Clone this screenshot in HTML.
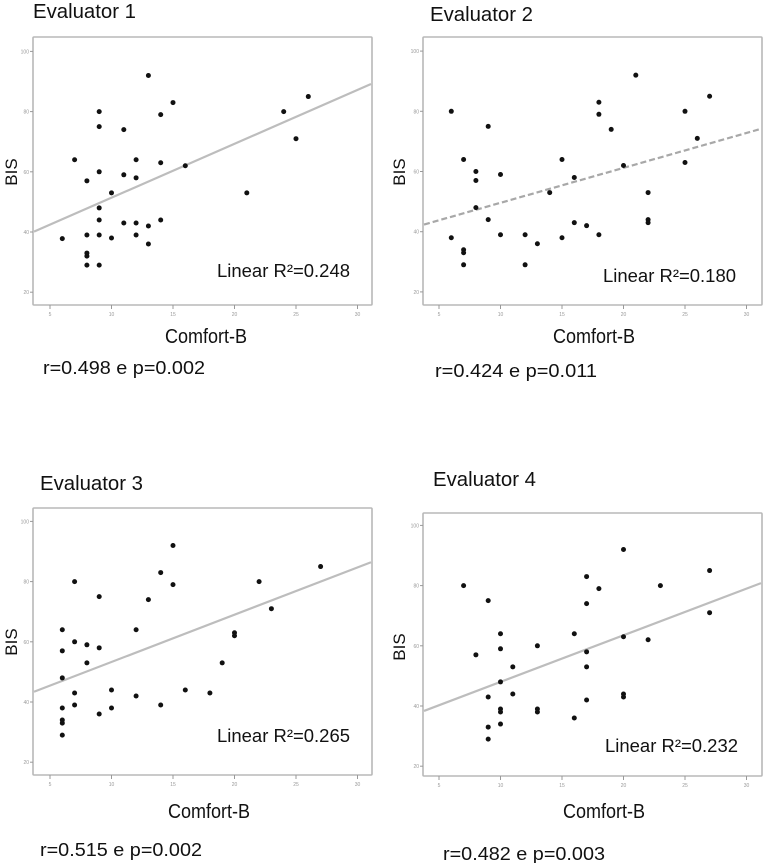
<!DOCTYPE html>
<html><head><meta charset="utf-8"><style>
html,body{margin:0;padding:0;background:#fff;}
svg{display:block;font-family:"Liberation Sans Narrow","Liberation Sans",sans-serif;}
</style></head><body>
<svg id="c" width="771" height="863" viewBox="0 0 771 863" xmlns="http://www.w3.org/2000/svg"></svg>
<script>
const xTicks = [5, 10, 15, 20, 25, 30];
const yTicks = [20, 40, 60, 80, 100];
const titles = ["Evaluator 1", "Evaluator 2", "Evaluator 3", "Evaluator 4"];
const r2Labels = ["Linear R²=0.248", "Linear R²=0.180", "Linear R²=0.265", "Linear R²=0.232"];
const statLabels = ["r=0.498 e p=0.002", "r=0.424 e p=0.011", "r=0.515 e p=0.002", "r=0.482 e p=0.003"];
const fitIntercepts = [33.5, 38.0, 37.6, 32.5];
const fitSlopes = [1.79, 1.16, 1.57, 1.55];
const e1x = [6,7,8,8,8,8,8,9,9,9,9,9,9,9,10,10,11,11,11,12,12,12,12,13,13,13,14,14,14,15,16,21,24,25,26];
const e1y = [37.8,64,57,39,33,32,29,80,75,60,48,44,39,29,53,38,74,59,43,64,58,43,39,92,42,36,79,63,44,83,62,53,80,71,85];
const e2x = [6,6,7,7,7,7,8,8,8,9,9,10,10,12,12,13,14,15,15,16,16,17,18,18,18,19,20,21,22,22,22,25,25,26,27];
const e2y = [80,38,64,34,33,29,60,57,48,75,44,59,39,39,29,36,53,64,38,58,43,42,83,79,39,74,62,92,53,44,43,80,63,71,85];
const e3x = [6,6,6,6,6,6,6,7,7,7,7,8,8,9,9,9,10,10,12,12,13,14,14,15,15,16,18,19,20,20,22,23,27];
const e3y = [64,57,48,38,34,33,29,80,60,43,39,59,53,75,58,36,44,38,64,42,74,83,39,92,79,44,43,53,63,62,80,71,85];
const e4x = [7,8,9,9,9,9,10,10,10,10,10,10,11,11,13,13,13,16,16,17,17,17,17,17,18,20,20,20,20,22,23,27,27];
const e4y = [80,57,75,43,33,29,64,59,48,39,38,34,53,44,60,39,38,64,36,83,74,58,53,42,79,92,63,44,43,62,80,85,71];
const seriesX = [e1x, e2x, e3x, e4x];
const seriesY = [e1y, e2y, e3y, e4y];

// layout (not data)
const panels = [
  {fx:33,fy:37,fw:339,fh:268,x0:50,y40:232,title:[33,18],r2:[217,277],comf:[165,343],stat:[43,374],bis:[12,172],dash:false},
  {fx:423,fy:37,fw:339,fh:268,x0:439,y40:231.7,title:[430,21],r2:[603,282],comf:[553,343],stat:[435,377],bis:[400,172],dash:true},
  {fx:33,fy:508,fw:339,fh:267,x0:50,y40:702,title:[40,490],r2:[217,742],comf:[168,818],stat:[40,856],bis:[12,642],dash:false},
  {fx:423,fy:513,fw:339,fh:263,x0:439,y40:706,title:[433,486],r2:[605,752],comf:[563,818],stat:[443,860],bis:[400,647],dash:true&&false}
];
const NS = "http://www.w3.org/2000/svg";
const svg = document.getElementById("c");
function mk(tag, attrs, parent){const e=document.createElementNS(NS,tag);for(const k in attrs)e.setAttribute(k,attrs[k]);(parent||svg).appendChild(e);return e;}

panels.forEach((p, i) => {
  const g = mk("g", {});
  
  
  const xs = v => p.x0 + (v - 5) * 12.3;
  const ys = v => p.y40 - (v - 40) * 3.01;

  const t = mk("text", {x:p.title[0], y:p.title[1], "font-size":20, fill:"#111", textLength:103, lengthAdjust:"spacingAndGlyphs"}, g);
  t.textContent = titles[i];
  
  

  const fr = mk("rect", {x:p.fx, y:p.fy, width:p.fw, height:p.fh, fill:"#fff", stroke:"#b8b8b8", "stroke-width":1.6, rx:1}, g);
  
  

  xTicks.forEach(v => {
    const tk = mk("line", {x1:xs(v), x2:xs(v), y1:p.fy+p.fh, y2:p.fy+p.fh+4, stroke:"#999", "stroke-width":1}, g);
    
    
    const tl = mk("text", {x:xs(v), y:p.fy+p.fh+11, "font-size":5, fill:"#999", "text-anchor":"middle"}, g);
    tl.textContent = v;
    
    
  });
  yTicks.forEach(v => {
    const tk = mk("line", {x1:p.fx-3, x2:p.fx, y1:ys(v), y2:ys(v), stroke:"#999", "stroke-width":1}, g);
    
    
    const tl = mk("text", {x:p.fx-4, y:ys(v)+2, "font-size":5, fill:"#999", "text-anchor":"end"}, g);
    tl.textContent = v;
    
    
  });

  const xa = p.fx+1, xb = p.fx+p.fw-1;
  const va = (xa - p.x0)/12.3 + 5, vb = (xb - p.x0)/12.3 + 5;
  const fl = mk("line", {x1:xa, y1:ys(fitIntercepts[i]+fitSlopes[i]*va), x2:xb, y2:ys(fitIntercepts[i]+fitSlopes[i]*vb),
    stroke: p.dash ? "#a8a8a8" : "#bdbdbd", "stroke-width":2.2, "stroke-dasharray": p.dash ? "6 3" : "none"}, g);
  
  

  seriesX[i].forEach((xv, j) => {
    const c = mk("circle", {cx:xs(xv), cy:ys(seriesY[i][j]), r:2.5, fill:"#111"}, g);
    
    
  });

  const r2 = mk("text", {x:p.r2[0], y:p.r2[1], "font-size":18, fill:"#111", textLength:133, lengthAdjust:"spacingAndGlyphs"}, g);
  r2.textContent = r2Labels[i];
  
  

  const cb = mk("text", {x:p.comf[0], y:p.comf[1], "font-size":20, fill:"#111", textLength:82, lengthAdjust:"spacingAndGlyphs"}, g);
  cb.textContent = "Comfort-B";
  
  

  const bis = mk("text", {x:0, y:0, "font-size":17, fill:"#111", "text-anchor":"middle", transform:`translate(${p.bis[0]+5},${p.bis[1]}) rotate(-90)`}, g);
  bis.textContent = "BIS";
  
  

  const st = mk("text", {x:p.stat[0], y:p.stat[1], "font-size":18, fill:"#111", textLength:162, lengthAdjust:"spacingAndGlyphs"}, g);
  st.textContent = statLabels[i];
  
  
});
</script>
</body></html>
